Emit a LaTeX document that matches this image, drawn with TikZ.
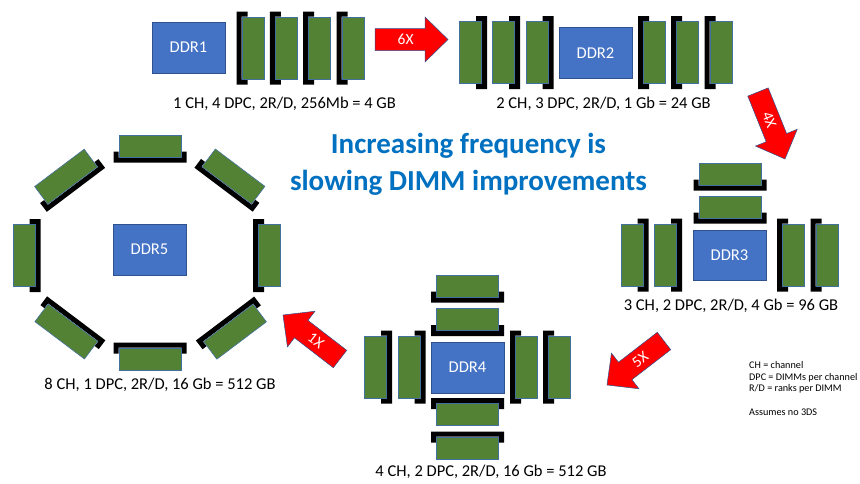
\documentclass[tikz,border=0pt]{standalone}
\usepackage{fontspec}
\setmainfont{Carlito}
\usetikzlibrary{calc}

\definecolor{dimmgreen}{HTML}{548235}
\definecolor{dimmedge}{HTML}{41719C}
\definecolor{ctrlblue}{HTML}{4472C4}
\definecolor{ctrledge}{HTML}{2F528F}
\definecolor{titleblue}{HTML}{0070C0}

\tikzset{
  dimmbox/.style={fill=dimmgreen, draw=dimmedge, line width=0.6pt},
  slotbar/.style={fill=black},
  ctrl/.style={fill=ctrlblue, draw=ctrledge, line width=0.6pt,
    minimum width=73pt, minimum height=51pt, inner sep=0pt,
    text=white, font=\fontsize{16.5}{19}\selectfont},
  caption/.style={anchor=base, inner sep=0pt, text=black,
    font=\fontsize{16.5}{19}\selectfont},
  headline/.style={anchor=base, inner sep=0pt, text=titleblue,
    font=\fontsize{29}{34}\selectfont\bfseries},
  legend/.style={anchor=base west, inner sep=0pt, text=black,
    font=\fontsize{10.2}{12}\selectfont},
  arrowbody/.style={fill=red, draw=ctrledge, line width=0.5pt},
  arrowlabel/.style={text=white, inner sep=0pt,
    font=\fontsize{15.5}{18}\selectfont},
}

% One DIMM in its slot: centre (#1,#2), turned by #3 degrees.
% Unturned, the module stands upright with the slot on its left.
\newcommand{\dimmslot}[3]{%
  \begin{scope}[shift={(#1,#2)}, rotate=#3]
    \fill[slotbar] (-16.5,-36.5) -- (-5.5,-36.5) -- (-5.5,-31.5) -- (-11.5,-31.5)
      -- (-11.5,31.5) -- (-5.5,31.5) -- (-5.5,36.5) -- (-16.5,36.5) -- cycle;
    \draw[dimmbox] (-11,-31) rectangle (11,31);
  \end{scope}}

% Block arrow from tail centre #1 to tip #2, label #3 turned by #4, label node name #5
\newcommand{\fatarrow}[5]{%
  \coordinate (#5-t) at #1;
  \coordinate (#5-p) at #2;
  \coordinate (#5-b) at ($(#5-p)!23pt!(#5-t)$);
  \draw[arrowbody] ($(#5-t)!11pt!-90:(#5-p)$) -- ($(#5-b)!11pt!-90:(#5-p)$)
    -- ($(#5-b)!22.5pt!-90:(#5-p)$) -- (#5-p) -- ($(#5-b)!22.5pt!90:(#5-p)$)
    -- ($(#5-b)!11pt!90:(#5-p)$) -- ($(#5-t)!11pt!90:(#5-p)$) -- cycle;
  \node[arrowlabel, rotate=#4] (#5) at ($(#5-t)!0.42!(#5-p)$) {#3};}

\begin{document}
\begin{tikzpicture}[x=1pt, y=-1pt]
  \fill[white] (0,0) rectangle (860,483);
  \useasboundingbox (0,0) rectangle (860,483);

  % ---- DDR1: one channel, four DIMMs ----
  \node[ctrl] (ddr1) at (188.5,47.5) {DDR1};
  \foreach \x in {253,286.3,319.7,353} {\dimmslot{\x}{48}{0}}
  \node[caption] (cap1) at (284.5,108) {1 CH, 4 DPC, 2R/D, 256Mb = 4 GB};

  % ---- DDR2: two channels, three DIMMs each ----
  \node[ctrl] (ddr2) at (595.5,53) {DDR2};
  \foreach \x in {470.5,503.5,537} {\dimmslot{\x}{52.5}{180}}
  \foreach \x in {654.5,687.5,721} {\dimmslot{\x}{52.5}{0}}
  \node[caption] (cap2) at (603.5,108) {2 CH, 3 DPC, 2R/D, 1 Gb = 24 GB};

  % ---- DDR3: three channels, two DIMMs each ----
  \node[ctrl, minimum height=50pt] (ddr3) at (729.5,255) {DDR3};
  \foreach \y in {174,207} {\dimmslot{730}{\y}{90}}
  \foreach \x in {632,665.5} {\dimmslot{\x}{255}{180}}
  \foreach \x in {793.5,827} {\dimmslot{\x}{255}{0}}
  \node[caption] (cap3) at (731,310) {3 CH, 2 DPC, 2R/D, 4 Gb = 96 GB};

  % ---- DDR4: four channels, two DIMMs each ----
  \node[ctrl] (ddr4) at (467.5,367.5) {DDR4};
  \foreach \y in {286,319.5} {\dimmslot{467.5}{\y}{90}}
  \foreach \y in {414.5,448} {\dimmslot{467.5}{\y}{-90}}
  \foreach \x in {375.5,409} {\dimmslot{\x}{367}{180}}
  \foreach \x in {526.5,559.5} {\dimmslot{\x}{367}{0}}
  \node[caption] (cap4) at (491,476) {4 CH, 2 DPC, 2R/D, 16 Gb = 512 GB};

  % ---- DDR5: eight channels, one DIMM each ----
  \node[ctrl] (ddr5) at (149.5,249.5) {DDR5};
  \dimmslot{150}{146}{90}
  \dimmslot{150}{359}{-90}
  \dimmslot{24}{255.5}{180}
  \dimmslot{269.5}{255.5}{0}
  \dimmslot{66}{176.7}{127}
  \dimmslot{233.5}{176.5}{53}
  \dimmslot{66.3}{331.5}{-127}
  \dimmslot{235}{331.7}{-53}
  \node[caption] (cap5) at (160,389) {8 CH, 1 DPC, 2R/D, 16 Gb = 512 GB};

  % ---- generation steps ----
  \fatarrow{(375,39.5)}{(448,39.5)}{6X}{0}{step6x}
  \fatarrow{(758,92)}{(785,159)}{4X}{-68}{step4x}
  \fatarrow{(664,341)}{(607,385)}{5X}{37.7}{step5x}
  \fatarrow{(340,359)}{(283,315)}{1X}{-37.7}{step1x}

  % ---- heading ----
  \node[headline] (head1) at (468.5,153) {Increasing frequency is};
  \node[headline] (head2) at (468.5,190) {slowing DIMM improvements};

  % ---- abbreviations ----
  \node[legend] (leg1) at (749,368) {CH = channel};
  \node[legend] (leg2) at (749,380) {DPC = DIMMs per channel};
  \node[legend] (leg3) at (749,391.5) {R/D = ranks per DIMM};
  \node[legend] (leg4) at (749,415) {Assumes no 3DS};
\end{tikzpicture}
\end{document}
